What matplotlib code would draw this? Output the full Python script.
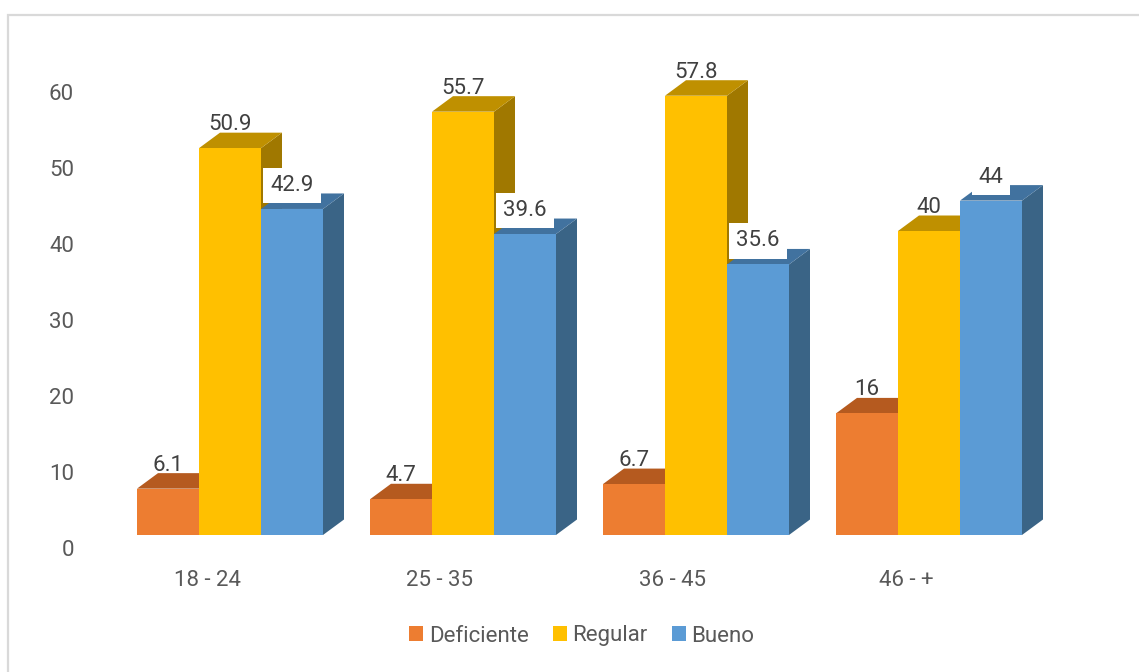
import matplotlib
matplotlib.use('Agg')
import matplotlib.pyplot as plt
from matplotlib.patches import Polygon, Rectangle, Patch
from matplotlib.transforms import ScaledTranslation, blended_transform_factory

categories = ['18 - 24', '25 - 35', '36 - 45', '46 - +']
series = ['Deficiente', 'Regular', 'Bueno']
deficiente = [6.1, 4.7, 6.7, 16]
regular = [50.9, 55.7, 57.8, 40]
bueno = [42.9, 39.6, 35.6, 44]
values = [deficiente, regular, bueno]
yticks = [0, 10, 20, 30, 40, 50, 60]

front_c = ['#ED7D31', '#FFC000', '#5B9BD5']
top_c = ['#B55A1F', '#BF9000', '#41729F']
side_c = ['#9E4E1A', '#A07800', '#3A6486']

plt.rcParams['font.family'] = ['Roboto', 'DejaVu Sans']
FS = 16
TXT = '#595959'
LBL = '#404040'

W, H = 1139, 672
fig = plt.figure(figsize=(W / 100, H / 100), dpi=100)
L, R, T, B = 84, 1130, 30, 600
ax = fig.add_axes([L / W, 1 - B / H, (R - L) / W, (B - T) / H])
ppx, x0 = 233.0, 230.0
ppy, y0 = 7.6, 535.0
ax.set_xlim((L - x0) / ppx, (R - x0) / ppx)
ax.set_ylim((y0 - B) / ppy, (y0 - T) / ppy)
for s in ax.spines.values():
    s.set_visible(False)

w = 62 / ppx
dx = 21 / ppx
dy = 15.5 / ppy

for j, vals in enumerate(values):
    for i, v in enumerate(vals):
        xl = i + (j - 1.5) * w
        xr = xl + w
        side = Polygon([(xr, 0), (xr + dx, dy), (xr + dx, v + dy), (xr, v)],
                       closed=True, fc=side_c[j], ec='none', zorder=1 + 3 * j)
        top = Polygon([(xl, v), (xl + dx, v + dy), (xr + dx, v + dy), (xr, v)],
                      closed=True, fc=top_c[j], ec='none', zorder=2 + 3 * j)
        ax.add_patch(side)
        ax.add_patch(top)
    xs = [i + (j - 1) * w for i in range(len(vals))]
    ax.bar(xs, vals, width=w, color=front_c[j], zorder=3 + 3 * j, linewidth=0)
    up = ScaledTranslation(0, 2.5 / 100, fig.dpi_scale_trans)
    for xc, v in zip(xs, vals):
        kw = {}
        if j == 2:
            kw['bbox'] = dict(boxstyle='square,pad=0.32', fc='white', ec='none')
        ax.text(xc, v + dy, f'{v:g}', ha='center', va='baseline', fontsize=FS,
                color=LBL, zorder=20, transform=ax.transData + up, **kw)

ax.set_yticks(yticks)
ax.set_yticklabels([str(t) for t in yticks])
ax.tick_params(axis='y', length=0, pad=7.2, labelsize=FS, labelcolor=TXT)
down = ScaledTranslation(0, -13 / 100, fig.dpi_scale_trans)
for lab in ax.get_yticklabels():
    lab.set_transform(lab.get_transform() + down)
ax.set_xticks([])

bt = blended_transform_factory(ax.transData, ax.transAxes)
left = ScaledTranslation(-23 / 100, 0, fig.dpi_scale_trans)
for i, c in enumerate(categories):
    ax.text(i, 14 / (B - T), c, ha='center', va='baseline', fontsize=FS,
            color=TXT, transform=bt + left)

handles = [Patch(facecolor=front_c[j], edgecolor='none') for j in range(3)]
fig.legend(handles, series, loc='center', bbox_to_anchor=(582 / W, 1 - 636 / H),
           ncol=3, frameon=False, fontsize=FS, labelcolor=TXT,
           handlelength=0.62, handleheight=0.62, handletextpad=0.25,
           columnspacing=1.1)

fig.patches.append(Rectangle((7.5 / W, -0.05), 1.2, 1.05 - 14.5 / H,
                             transform=fig.transFigure, fill=False,
                             ec='#D9D9D9', lw=1.6, zorder=0))

fig.savefig('out.png', dpi=100, facecolor='white')
